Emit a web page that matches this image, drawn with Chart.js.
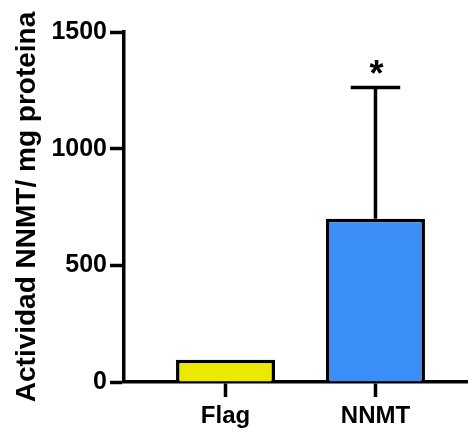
<!DOCTYPE html>
<html>
<head>
<meta charset="utf-8">
<script src="https://cdn.jsdelivr.net/npm/chart.js@4/dist/chart.umd.min.js"></script>
<style>
  html, body { margin: 0; padding: 0; background: #fff; }
</style>
</head>
<body>
<canvas id="c" width="468" height="431"></canvas>
<script>
// Groups, mean activity and SD per group
const categories = ['Flag', 'NNMT'];
const means = [95, 700];
const sd = [0, 562];
const significance = ['', '*'];
const yTicks = [0, 500, 1000, 1500];
const barColors = ['#EDE800', '#3B8EF6'];

const FONT = '"Liberation Sans", Arial, sans-serif';
const LINE = 3.5;

// Upward error bars with caps, plus the significance mark above them
const errorBars = {
  id: 'errorBars',
  afterDatasetsDraw(chart) {
    const ctx = chart.ctx;
    const yScale = chart.scales.y;
    const meta = chart.getDatasetMeta(0);
    ctx.save();
    ctx.strokeStyle = '#000';
    ctx.fillStyle = '#000';
    ctx.lineWidth = LINE;
    meta.data.forEach((bar, i) => {
      let top = bar.y;
      if (sd[i]) {
        top = yScale.getPixelForValue(means[i] + sd[i]);
        const half = bar.width / 4;
        ctx.beginPath();
        ctx.moveTo(bar.x, bar.y);
        ctx.lineTo(bar.x, top);
        ctx.moveTo(bar.x - half, top);
        ctx.lineTo(bar.x + half, top);
        ctx.stroke();
      }
      if (significance[i]) {
        ctx.font = 'bold 36px ' + FONT;
        ctx.textAlign = 'center';
        ctx.textBaseline = 'alphabetic';
        ctx.fillText(significance[i], bar.x + 1, top - 2);
      }
    });
    ctx.restore();
  }
};

new Chart(document.getElementById('c'), {
  type: 'bar',
  data: {
    datasets: [{
      data: categories.map((c, i) => ({ x: i, y: means[i] })),
      backgroundColor: barColors,
      borderColor: '#000',
      borderWidth: LINE,
      borderSkipped: 'start',
      barPercentage: 0.66,
      categoryPercentage: 1
    }]
  },
  options: {
    responsive: false,
    animation: false,
    layout: { padding: { top: 32, left: 0, right: 0, bottom: 0 } },
    plugins: { legend: { display: false }, tooltip: { enabled: false } },
    scales: {
      x: {
        type: 'linear',
        min: -0.677,
        max: 1.617,
        offset: false,
        afterBuildTicks: s => { s.ticks = categories.map((c, i) => ({ value: i })); },
        afterFit: s => { s.height = 49; },
        ticks: {
          callback: v => categories[v] ?? '',
          font: { family: FONT, size: 24, weight: 'bold' },
          color: '#000',
          padding: 5,
          autoSkip: false,
          maxRotation: 0
        },
        grid: { offset: false, drawOnChartArea: false, drawTicks: true, tickLength: 15, tickWidth: LINE, tickColor: '#000' },
        border: { display: true, color: '#000', width: LINE }
      },
      y: {
        min: 0,
        max: 1500,
        afterBuildTicks: s => { s.ticks = yTicks.map(v => ({ value: v })); },
        afterFit: s => { s.width = 124; },
        ticks: {
          callback: v => String(v),
          font: { family: FONT, size: 25, weight: 'bold' },
          color: '#000',
          padding: 3
        },
        grid: { drawOnChartArea: false, drawTicks: true, tickLength: 14, tickWidth: LINE, tickColor: '#000' },
        border: { display: true, color: '#000', width: LINE },
        title: {
          display: true,
          text: 'Actividad NNMT/ mg proteina',
          font: { family: FONT, size: 28, weight: 'bold' },
          color: '#000',
          padding: { top: 10, bottom: 0 }
        }
      }
    }
  },
  plugins: [errorBars]
});
</script>
</body>
</html>
